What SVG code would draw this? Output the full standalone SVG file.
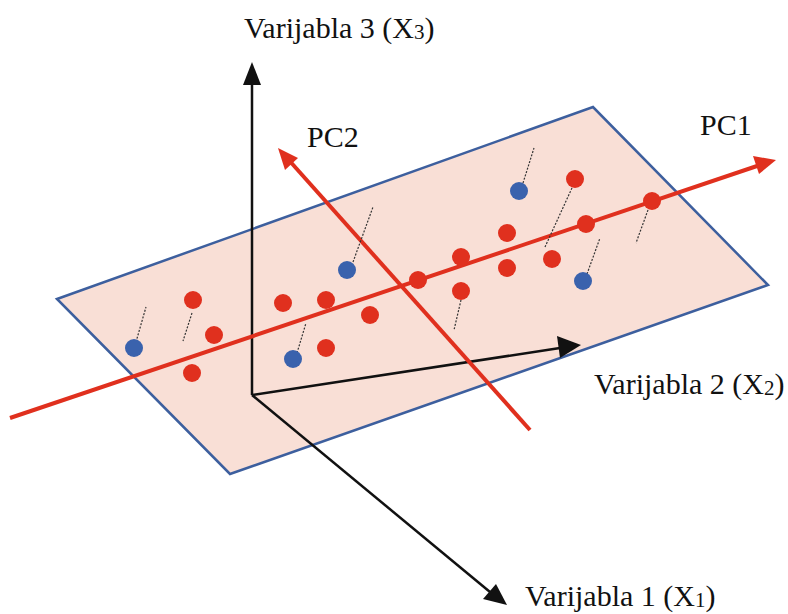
<svg xmlns="http://www.w3.org/2000/svg" width="788" height="614" viewBox="0 0 788 614">
<style>
.lbl{font-family:"Liberation Serif","Times New Roman",serif;font-size:30px;fill:#111}
.sub{font-size:21px}
.ax{stroke:#111;stroke-width:2.5;fill:none}
.pc{stroke:#e0301e;stroke-width:4;fill:none}
.r{fill:#e0301e}
.b{fill:#3a62ad}
.d{stroke:#333;stroke-width:1.2;stroke-dasharray:2 1.5;fill:none}
</style>
<g id="plane"><polygon points="57,299 593,107 768,285 230,474" fill="#f9dfd6" stroke="#3d5f9e" stroke-width="2.5"/></g>
<g id="connectors">
<line class="ax" x1="252" y1="395" x2="252" y2="85"/>
<path d="M252,62 L243,85 L261,85z" fill="#111"/>
<line class="ax" x1="252" y1="395" x2="560" y2="348"/>
<path d="M581,345 L557,336 L560,358z" fill="#111"/>
<line class="ax" x1="252" y1="395" x2="490" y2="592"/>
<path d="M507,605 L483,599 L496,584z" fill="#111"/>
<line class="pc" x1="10" y1="418" x2="760" y2="165"/>
<path d="M776,160 L753,156 L759,174z" fill="#e0301e"/>
<line class="pc" x1="530" y1="430" x2="287" y2="158"/>
<path d="M278,148 L298,158 L285,170z" fill="#e0301e"/>
</g>
<g id="dashes">
<line class="d" x1="136" y1="342" x2="146" y2="307"/>
<line class="d" x1="192" y1="313" x2="183" y2="341"/>
<line class="d" x1="297" y1="353" x2="306" y2="323"/>
<line class="d" x1="353" y1="262" x2="373" y2="207"/>
<line class="d" x1="461" y1="300" x2="454" y2="330"/>
<line class="d" x1="523" y1="183" x2="534" y2="148"/>
<line class="d" x1="572" y1="188" x2="545" y2="247"/>
<line class="d" x1="587" y1="274" x2="600" y2="238"/>
<line class="d" x1="648" y1="210" x2="636" y2="243"/>
</g>
<g id="points">
<circle class="r" cx="193" cy="300" r="9"/>
<circle class="r" cx="214" cy="335" r="9"/>
<circle class="r" cx="192" cy="373" r="9"/>
<circle class="r" cx="283" cy="303" r="9"/>
<circle class="r" cx="326" cy="300" r="9"/>
<circle class="r" cx="326" cy="348" r="9"/>
<circle class="r" cx="370" cy="315" r="9"/>
<circle class="r" cx="418" cy="280" r="9"/>
<circle class="r" cx="461" cy="257" r="9"/>
<circle class="r" cx="461" cy="291" r="9"/>
<circle class="r" cx="507" cy="233" r="9"/>
<circle class="r" cx="507" cy="268" r="9"/>
<circle class="r" cx="552" cy="259" r="9"/>
<circle class="r" cx="575" cy="179" r="9"/>
<circle class="r" cx="586" cy="224" r="9"/>
<circle class="r" cx="652" cy="201" r="9"/>
<circle class="b" cx="134" cy="348" r="9"/>
<circle class="b" cx="293" cy="359" r="9"/>
<circle class="b" cx="347" cy="270" r="9"/>
<circle class="b" cx="519" cy="191" r="9"/>
<circle class="b" cx="583" cy="281" r="9"/>
</g>
<g id="labels">
<text class="lbl" x="244" y="38">Varijabla 3 (X<tspan class="sub" dy="1">3</tspan><tspan dy="-1">)</tspan></text>
<text class="lbl" x="307" y="147">PC2</text>
<text class="lbl" x="700" y="135">PC1</text>
<text class="lbl" x="594" y="394">Varijabla 2 (X<tspan class="sub" dy="1">2</tspan><tspan dy="-1">)</tspan></text>
<text class="lbl" x="525" y="606">Varijabla 1 (X<tspan class="sub" dy="1">1</tspan><tspan dy="-1">)</tspan></text>
</g>
</svg>
